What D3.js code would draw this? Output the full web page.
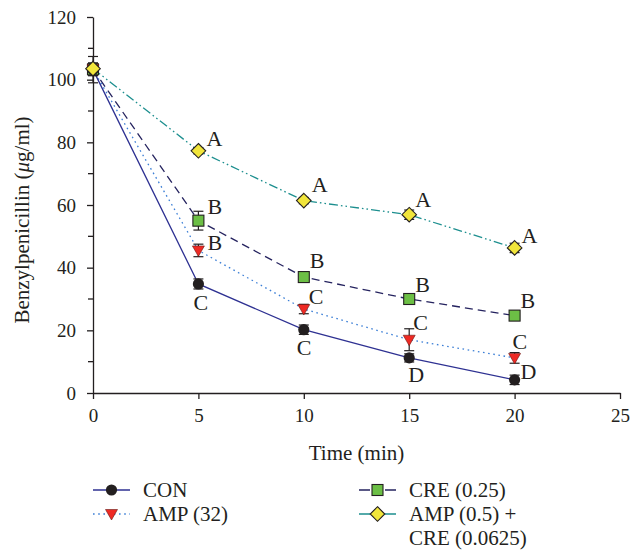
<!DOCTYPE html>
<html>
<head>
<meta charset="utf-8">
<script src="https://cdn.jsdelivr.net/npm/d3@7"></script>
<style>
  body { margin: 0; background: #fff; }
  text { font-family: "Liberation Serif", "DejaVu Serif", serif; fill: #231f20; }
</style>
</head>
<body>
<div id="chart"></div>
<script>
// data
let times = [0, 5, 10, 15, 20];
let xTicks = [0, 5, 10, 15, 20, 25];
let yTicks = [0, 20, 40, 60, 80, 100, 120];

let conMean = [103.2, 34.8, 20.2, 11.2, 4.2];
let conErr = [4.2, 1.6, 1.5, 1.3, 1.5];
let conLetters = ["", "C", "C", "D", "D"];

let ampMean = [103.3, 45.5, 26.8, 17.0, 11.2];
let ampErr = [2, 2, 1.5, 3.5, 1.7];
let ampLetters = ["", "B", "C", "C", "C"];

let creMean = [103.3, 55.0, 37.0, 30.0, 24.7];
let creErr = [2, 3, 1, 1, 1];
let creLetters = ["", "B", "B", "B", "B"];

let comboMean = [103.5, 77.3, 61.4, 56.9, 46.3];
let comboErr = [1, 1, 1, 1.5, 1.5];
let comboLetters = ["", "A", "A", "A", "A"];

let w = 637,
	h = 552;

let svg = d3
	.select("#chart")
	.append("svg")
	.attr("width", w)
	.attr("height", h);

let x = d3.scaleLinear().domain([0, 25]).range([93, 620]);
let y = d3.scaleLinear().domain([0, 120]).range([393, 17]);

// axes
let xAxis = svg
	.append("g")
	.attr("transform", "translate(0," + y(0) + ")")
	.call(d3.axisBottom(x).tickValues(xTicks).tickSize(6).tickPadding(6).tickSizeOuter(0));

let yAxis = svg
	.append("g")
	.attr("transform", "translate(" + x(0) + ",0)")
	.call(d3.axisLeft(y).tickValues(yTicks).tickSize(6).tickPadding(11).tickSizeOuter(0));

// minor y ticks
svg
	.append("g")
	.selectAll("line")
	.data(d3.range(10, 120, 20))
	.enter()
	.append("line")
	.attr("x1", x(0) - 5)
	.attr("x2", x(0))
	.attr("y1", (d) => y(d))
	.attr("y2", (d) => y(d))
	.attr("stroke", "#231f20")
	.attr("stroke-width", 1.3);

svg.selectAll(".domain, .tick line").attr("stroke", "#231f20").attr("stroke-width", 1.3);
svg.selectAll(".tick text").style("font-size", "19px").attr("fill", "#231f20");
xAxis.selectAll(".tick text").attr("dy", "0.9em");

svg
	.append("text")
	.attr("x", (x(0) + x(25)) / 2)
	.attr("y", 460)
	.attr("text-anchor", "middle")
	.style("font-size", "21px")
	.text("Time (min)");

let ytitle = svg
	.append("text")
	.attr("transform", "translate(29,220) rotate(-90)")
	.attr("text-anchor", "middle")
	.style("font-size", "21px");
ytitle.append("tspan").text("Benzylpenicillin (");
ytitle.append("tspan").style("font-style", "italic").text("μ");
ytitle.append("tspan").text("g/ml)");

let series = [
	{
		name: "CRE (0.25)", mean: creMean, err: creErr, letters: creLetters,
		line: "#25235f", dash: "8,5", legendDash: "11,15,11", marker: "square", fill: "#6cbf45",
		off: [null, [9, -7], [6, -9], [6, -7], [6, -8]],
	},
	{
		name: "AMP (32)", mean: ampMean, err: ampErr, letters: ampLetters,
		line: "#3c7fd6", dash: "1.6,3.6", legendDash: "1.6,3.6", marker: "triangle", fill: "#ee2a24",
		off: [null, [9, 0], [5, -5], [4, -10], [-2, -9]],
	},
	{
		name: "CON", mean: conMean, err: conErr, letters: conLetters,
		line: "#2e3192", dash: null, legendDash: null, marker: "circle", fill: "#231f20",
		off: [null, [-5, 26], [-7, 25], [-1, 24], [6, -1]],
	},
	{
		name: "AMP (0.5) +", mean: comboMean, err: comboErr, letters: comboLetters,
		line: "#1d8f8f", dash: "9,3,1.6,3,1.6,3", legendDash: "11,15,11", marker: "diamond", fill: "#f1e53b",
		off: [null, [8, -5], [8, -9], [6, -8], [7, -5]],
	},
];

let lineGen = d3
	.line()
	.x((d, i) => x(times[i]))
	.y((d) => y(d));

function drawMarker(g, type, fill, cx, cy) {
	if (type === "circle") {
		g.append("circle").attr("cx", cx).attr("cy", cy).attr("r", 5.6).attr("fill", fill);
	} else if (type === "square") {
		g.append("rect")
			.attr("x", cx - 5.5).attr("y", cy - 5.5)
			.attr("width", 11).attr("height", 11)
			.attr("fill", fill).attr("stroke", "#231f20").attr("stroke-width", 1.1);
	} else if (type === "triangle") {
		g.append("path")
			.attr("d", "M" + (cx - 6) + "," + (cy - 4.5) + "L" + (cx + 6) + "," + (cy - 4.5) + "L" + cx + "," + (cy + 6) + "Z")
			.attr("fill", fill).attr("stroke", "#6a1512").attr("stroke-width", 0.6);
	} else {
		g.append("path")
			.attr("d", "M" + cx + "," + (cy - 7.3) + "L" + (cx + 7.3) + "," + cy + "L" + cx + "," + (cy + 7.3) + "L" + (cx - 7.3) + "," + cy + "Z")
			.attr("fill", fill).attr("stroke", "#231f20").attr("stroke-width", 1.1);
	}
}

// lines first
series.forEach((s) => {
	svg
		.append("path")
		.datum(s.mean)
		.attr("d", lineGen)
		.attr("fill", "none")
		.attr("stroke", s.line)
		.attr("stroke-width", 1.3)
		.attr("stroke-dasharray", s.dash);
});

// error bars, markers, letters
series.forEach((s) => {
	let g = svg.append("g");
	s.mean.forEach((m, i) => {
		let cx = x(times[i]);
		let top = y(m + s.err[i]),
			bot = y(m - s.err[i]);
		g.append("line").attr("x1", cx).attr("x2", cx).attr("y1", top).attr("y2", bot)
			.attr("stroke", "#231f20").attr("stroke-width", 1.2);
		[top, bot].forEach((yy) => {
			g.append("line").attr("x1", cx - 5).attr("x2", cx + 5).attr("y1", yy).attr("y2", yy)
				.attr("stroke", "#231f20").attr("stroke-width", 1.2);
		});
		drawMarker(g, s.marker, s.fill, cx, y(m));
		if (s.letters[i]) {
			g.append("text")
				.attr("x", cx + s.off[i][0])
				.attr("y", y(m) + s.off[i][1])
				.style("font-size", "22px")
				.text(s.letters[i]);
		}
	});
});

// legend
let legendItems = [
	{ s: series[2], col: 0, row: 0 },
	{ s: series[1], col: 0, row: 1 },
	{ s: series[0], col: 1, row: 0 },
	{ s: series[3], col: 1, row: 1 },
];
let colX = [93, 359],
	rowY = [490, 514];

let legend = svg.append("g");
legendItems.forEach((d) => {
	let lx = colX[d.col],
		ly = rowY[d.row];
	legend.append("line")
		.attr("x1", lx).attr("x2", lx + 37).attr("y1", ly).attr("y2", ly)
		.attr("stroke", d.s.line).attr("stroke-width", 1.3)
		.attr("stroke-dasharray", d.s.legendDash);
	drawMarker(legend, d.s.marker, d.s.fill, lx + 18.5, ly);
	legend.append("text")
		.attr("x", lx + 50)
		.attr("y", ly)
		.attr("dy", "0.35em")
		.style("font-size", "21px")
		.text(d.s.name);
});
legend.append("text")
	.attr("x", colX[1] + 50)
	.attr("y", 538)
	.attr("dy", "0.35em")
	.style("font-size", "21px")
	.text("CRE (0.0625)");
</script>
</body>
</html>
